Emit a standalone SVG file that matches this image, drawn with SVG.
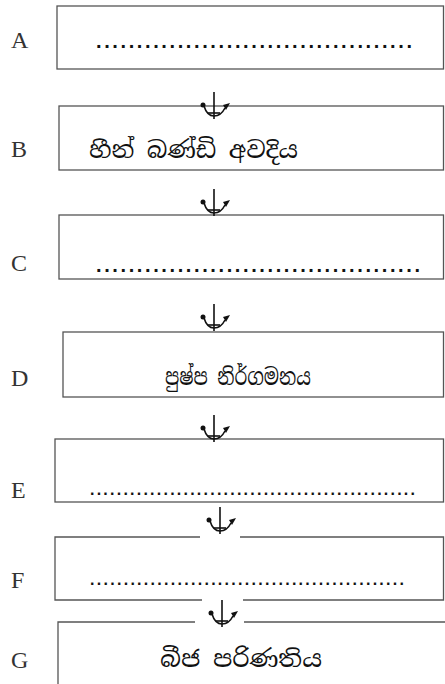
<svg xmlns="http://www.w3.org/2000/svg" width="445" height="684" viewBox="0 0 445 684">
<style>
.box{fill:none;stroke:#555;stroke-width:1.3}
.lbl{font-family:"Liberation Serif","Times New Roman",serif;font-size:24px;fill:#333}
.si{font-family:"Noto Serif Sinhala","Noto Sans Sinhala","Iskoola Pota","Noto Sans",sans-serif;font-size:23px;fill:#111}
.dots{font-family:"Liberation Sans",Arial,sans-serif;font-weight:bold;font-size:20px;fill:#111}
.dots2{font-family:"Liberation Sans",Arial,sans-serif;font-weight:bold;font-size:16px;fill:#111}
.ar{fill:none;stroke:#111;stroke-width:1.6}
</style>
<defs>
<g id="arrow">
<path class="ar" d="M0,0 V27"/>
<path class="ar" d="M-10,14 Q-7,24 0,24 Q7,24 11,16"/>
<path class="ar" d="M-6,21 H6"/>
<circle cx="-11" cy="13" r="2.5" fill="#111"/>
<path d="M9,13 L16,11 L12,18 Z" fill="#111"/>
</g>
</defs>
<g id="labels">
<text class="lbl" x="11" y="48">A</text>
<text class="lbl" x="11" y="157">B</text>
<text class="lbl" x="11" y="271">C</text>
<text class="lbl" x="11" y="386">D</text>
<text class="lbl" x="11" y="498">E</text>
<text class="lbl" x="11" y="588">F</text>
<text class="lbl" x="11" y="668">G</text>
</g>
<g id="nodeA">
<rect class="box" x="57" y="6" width="386.5" height="63"/>
<text class="dots" x="96" y="48" textLength="316" lengthAdjust="spacing">.......................................</text>
</g>
<g id="nodeB">
<rect class="box" x="59" y="106" width="384.5" height="64"/>
<text class="si" x="89" y="158" textLength="209" lengthAdjust="spacingAndGlyphs">හීන් බණ්ඩි අවදිය</text>
</g>
<g id="nodeC">
<rect class="box" x="59" y="215" width="384.5" height="64"/>
<text class="dots" x="96" y="272" textLength="324" lengthAdjust="spacing">........................................</text>
</g>
<g id="nodeD">
<rect class="box" x="63" y="332" width="380.5" height="65"/>
<text class="si" x="165" y="385" textLength="146" lengthAdjust="spacingAndGlyphs">පුෂ්ප නිර්ගමනය</text>
</g>
<g id="nodeE">
<rect class="box" x="55" y="439" width="388.5" height="63"/>
<text class="dots2" x="90" y="495" textLength="325" lengthAdjust="spacing">.................................................</text>
</g>
<g id="nodeF">
<path class="box" d="M200,537 H55 V600 H202 M243,600 H443.5 V537 H240"/>
<text class="dots2" x="90" y="585" textLength="314" lengthAdjust="spacing">...............................................</text>
</g>
<g id="nodeG">
<path class="box" d="M58,684 V622 H195 M244,622 H445"/>
<text class="si" x="160" y="667" textLength="162" lengthAdjust="spacingAndGlyphs">බීජ පරිණතිය</text>
</g>
<g id="connectors">
<use href="#arrow" x="214" y="92"/>
<use href="#arrow" x="214" y="189"/>
<use href="#arrow" x="214" y="304"/>
<use href="#arrow" x="214" y="415"/>
<use href="#arrow" x="220" y="507"/>
<use href="#arrow" x="222" y="600"/>
</g>
</svg>
